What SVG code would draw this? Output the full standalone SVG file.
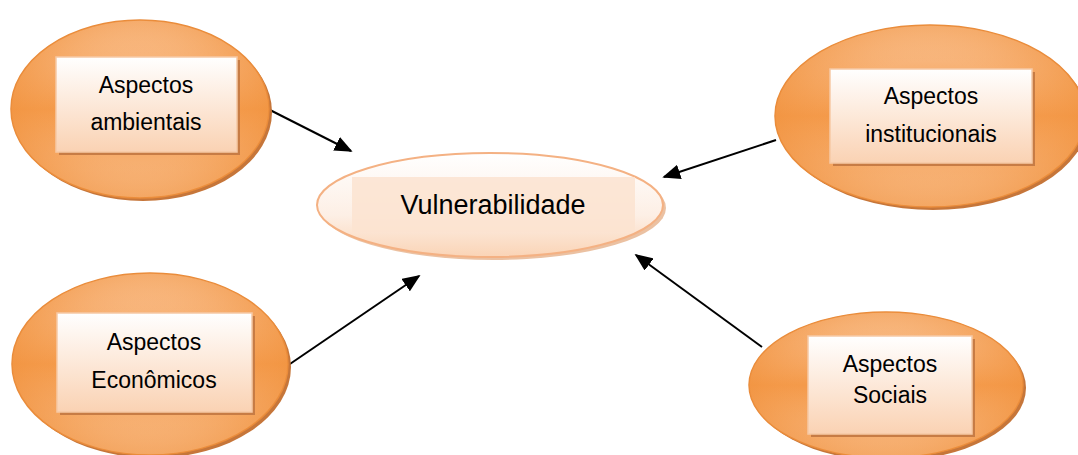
<svg xmlns="http://www.w3.org/2000/svg" width="1078" height="455" viewBox="0 0 1078 455">
<defs>
<linearGradient id="og" x1="0" y1="0" x2="0" y2="1">
<stop offset="0" stop-color="#FAC69A"/>
<stop offset="0.5" stop-color="#F49A4A"/>
<stop offset="1" stop-color="#F8BD8A"/>
</linearGradient>
<radialGradient id="og2" cx="0.5" cy="0.5" r="0.5">
<stop offset="0.6" stop-color="#F49A4A" stop-opacity="0"/>
<stop offset="1" stop-color="#F0913C" stop-opacity="0.5"/>
</radialGradient>
<linearGradient id="rg" x1="0" y1="0" x2="0" y2="1">
<stop offset="0" stop-color="#FFFFFF"/>
<stop offset="1" stop-color="#FAD2B3"/>
</linearGradient>
<linearGradient id="cg" x1="0" y1="0" x2="0" y2="1">
<stop offset="0" stop-color="#FFFFFF"/>
<stop offset="0.6" stop-color="#FDEFE5"/>
<stop offset="1" stop-color="#FAD4B6"/>
</linearGradient>
<marker id="arrow" viewBox="0 0 10 10" refX="9" refY="5" markerWidth="18" markerHeight="15" markerUnits="userSpaceOnUse" orient="auto" preserveAspectRatio="none">
<path d="M0,0 L10,5 L0,10 z" fill="#000"/>
</marker>
</defs>
<style>
.oshadow{fill:#C6763A;}
.oval{fill:url(#og);stroke:#E88B3B;stroke-width:1.5;}
.ovl2{fill:url(#og2);stroke:none;}
.rshadow{fill:#C77C45;}
.box{fill:url(#rg);stroke:#F6C9A5;stroke-width:1.5;}
.t{font-family:"Liberation Sans",Arial,sans-serif;font-size:23px;fill:#000;text-anchor:middle;}
.conn{stroke:#000;stroke-width:2;fill:none;marker-end:url(#arrow);}
</style>
<g id="connectors">
<line class="conn" x1="270" y1="110" x2="351" y2="151"/>
<line class="conn" x1="776" y1="140" x2="664" y2="177"/>
<line class="conn" x1="287" y1="366" x2="419" y2="276"/>
<line class="conn" x1="762" y1="347" x2="636" y2="255"/>
</g>
<g id="node-ambientais">
<ellipse class="oshadow" cx="143" cy="112" rx="129" ry="89"/>
<ellipse class="oval" cx="140" cy="109" rx="129" ry="89"/>
<ellipse class="ovl2" cx="140" cy="109" rx="129" ry="89"/>
<rect class="rshadow" x="59" y="60" width="181" height="95"/>
<rect class="box" x="56" y="57" width="181" height="95"/>
<text class="t" x="146" y="93">Aspectos</text>
<text class="t" x="146" y="130">ambientais</text>
</g>
<g id="node-institucionais">
<ellipse class="oshadow" cx="933" cy="119" rx="155" ry="91"/>
<ellipse class="oval" cx="930" cy="116" rx="155" ry="91"/>
<ellipse class="ovl2" cx="930" cy="116" rx="155" ry="91"/>
<rect class="rshadow" x="833" y="72" width="202" height="94"/>
<rect class="box" x="830" y="69" width="202" height="94"/>
<text class="t" x="931" y="104">Aspectos</text>
<text class="t" x="931" y="142">institucionais</text>
</g>
<g id="node-economicos">
<ellipse class="oshadow" cx="153" cy="367" rx="138" ry="91"/>
<ellipse class="oval" cx="150" cy="364" rx="138" ry="91"/>
<ellipse class="ovl2" cx="150" cy="364" rx="138" ry="91"/>
<rect class="rshadow" x="60" y="316" width="195" height="99"/>
<rect class="box" x="57" y="313" width="195" height="99"/>
<text class="t" x="154" y="350">Aspectos</text>
<text class="t" x="154" y="388">Econômicos</text>
</g>
<g id="node-sociais">
<ellipse class="oshadow" cx="889" cy="388" rx="137" ry="73"/>
<ellipse class="oval" cx="886" cy="385" rx="137" ry="73"/>
<ellipse class="ovl2" cx="886" cy="385" rx="137" ry="73"/>
<rect class="rshadow" x="811" y="339" width="164" height="98"/>
<rect class="box" x="808" y="336" width="164" height="98"/>
<text class="t" x="890" y="372">Aspectos</text>
<text class="t" x="890" y="403">Sociais</text>
</g>
<g id="node-vulnerabilidade">
<ellipse cx="493" cy="208" rx="173" ry="52" fill="#E2A77A" opacity="0.7"/>
<ellipse cx="490" cy="205" rx="173" ry="52" fill="url(#cg)" stroke="#F4B183" stroke-width="2"/>
<rect x="352" y="177" width="283" height="55" fill="#FBE3D0" opacity="0.85"/>
<text class="t" x="493" y="214" style="font-size:27px">Vulnerabilidade</text>
</g>
</svg>
